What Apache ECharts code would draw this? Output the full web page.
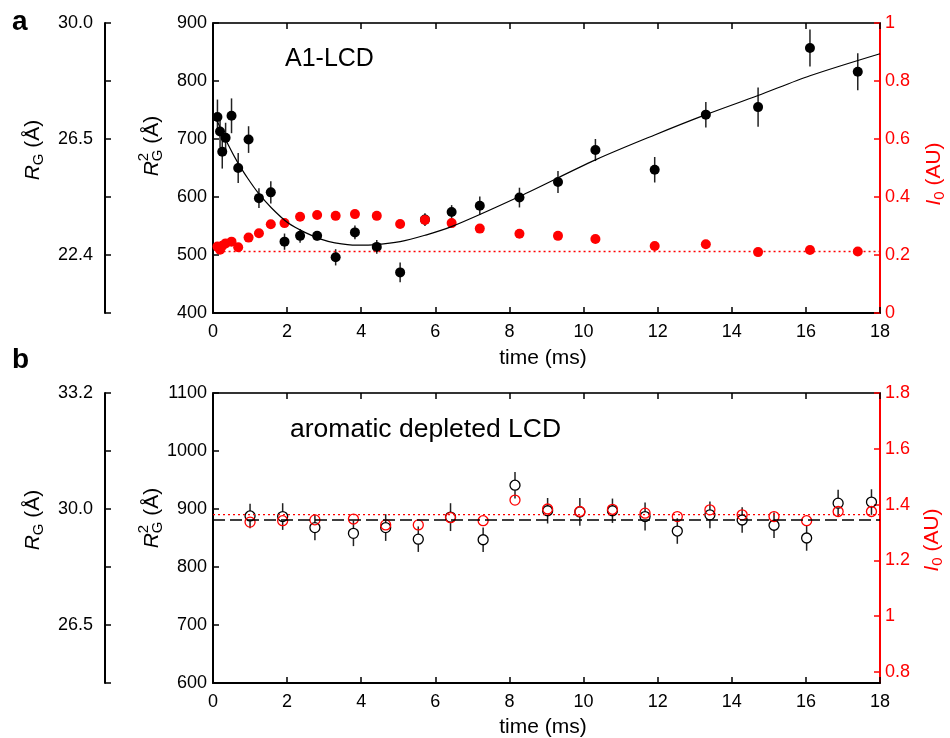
<!DOCTYPE html>
<html>
<head>
<meta charset="utf-8">
<script src="https://cdn.jsdelivr.net/npm/echarts@6/dist/echarts.min.js"></script>
<style>html,body{margin:0;padding:0;background:#fff}#c{width:950px;height:738px}</style>
</head>
<body>
<div id="c"></div>
<script>
// ---------- Panel a data (A1-LCD) ----------
const tA    = [0.12,0.19,0.25,0.34,0.50,0.68,0.96,1.24,1.56,1.93,2.35,2.81,3.31,3.83,4.42,5.05,5.72,6.44,7.20,8.27,9.31,10.32,11.92,13.30,14.71,16.11,17.40];
const rg2A  = [738,713,678,702,740,650,699,598,608,523,533,533,496,539,514,470,561,574,585,599,626,681,647,742,755,857,816];
const errA  = [30,28,29,26,30,26,23,17,19,14,12,8,14,12,12,17,11,12,16,17,19,19,22,22,34,32,32];
const i0A   = [0.229,0.218,0.232,0.240,0.246,0.227,0.260,0.275,0.306,0.310,0.332,0.338,0.335,0.341,0.335,0.307,0.321,0.310,0.291,0.273,0.266,0.255,0.231,0.237,0.210,0.217,0.212];
const i0BaseA = 0.212;
const fitT  = [0.08,0.14,0.41,0.68,0.95,1.22,1.58,2.03,2.48,2.93,3.29,3.88,4.42,5.05,5.72,6.40,8.27,10.32,11.92,13.30,14.71,16.11,18.0];
const fitY  = [737,727,690,658,631,607,581,555,539,527,521,517,518,523,534,548,601,664,707,742,775,809,847];

// ---------- Panel b data (aromatic depleted LCD) ----------
const tB    = [1.00,1.88,2.75,3.79,4.66,5.54,6.41,7.29,8.15,9.03,9.90,10.78,11.66,12.53,13.41,14.28,15.14,16.02,16.87,17.77];
const rg2B  = [888,887,868,858,868,848,886,847,941,897,895,897,887,862,890,881,872,850,910,912];
const errB  = [21,23,22,22,23,22,24,21,23,22,24,21,24,22,23,22,22,22,23,22];
const i0B   = [1.337,1.342,1.345,1.348,1.327,1.327,1.353,1.342,1.416,1.384,1.375,1.383,1.369,1.357,1.381,1.363,1.357,1.342,1.375,1.375];
const rg2BaseB = 881;
const i0BaseB  = 1.364;

// ---------- Tick labels ----------
const rgTickValsA   = [900,700,500];
const rgTickLabelsA = ['30.0','26.5','22.4'];
const rgTickValsB   = [1100,900,700];
const rgTickLabelsB = ['33.2','30.0','26.5'];
const i0TickValsB   = [0.8,1.0,1.2,1.4,1.6,1.8];
const i0TickLabelsB = ['0.8','1','1.2','1.4','1.6','1.8'];
const i0TickLabelsA = ['0','0.2','0.4','0.6','0.8','1'];

const FONT = '"Liberation Sans", Arial, Helvetica, sans-serif';
const RED = '#ff0000';
const chart = echarts.init(document.getElementById('c'), null, {renderer:'canvas'});

function xAx(grid, pos, show) {
  return {type:'value', gridIndex:grid, position:pos, min:0, max:18, interval:2,
    axisLine:{onZero:false, lineStyle:{color: pos==='top' ? '#333' : '#000', width:2}},
    axisTick:{inside:true, length:6, lineStyle:{color:'#000', width:1.5}},
    axisLabel:{show:show, margin:10, color:'#000', fontSize:18, fontFamily:FONT},
    splitLine:{show:false}};
}
function yAx(grid, pos, min, max, interval, opts) {
  const color = opts.color || '#000';
  const o = {type:'value', gridIndex:grid, position:pos, min:min, max:max, interval:interval,
    offset: opts.offset || 0,
    axisLine:{show:true, onZero:false, lineStyle:{color:color, width:2}},
    axisTick:{show:true, inside:true, length:6, lineStyle:{color:color, width:1.5}},
    axisLabel:{margin: opts.margin || 6, color:color, fontSize:18, fontFamily:FONT,
      formatter:function(v){return String(v);}},
    splitLine:{show:false}};
  if (opts.labelVals) { o.axisLabel.customValues = opts.labelVals; }
  if (opts.tickVals) { o.axisTick.customValues = opts.tickVals; }
  if (opts.fmt) o.axisLabel.formatter = opts.fmt;
  return o;
}
function mapFmt(vals, labels) {
  return function (v) {
    for (let i = 0; i < vals.length; i++) if (Math.abs(vals[i] - v) < 1e-6) return labels[i];
    return '';
  };
}

const ctx = document.createElement('canvas').getContext('2d');
function rotLabel(cx, cy, parts, color) {
  let x = 0; const children = [];
  parts.forEach(function (p) {
    const items = p.stack || [p];
    let w = 0;
    items.forEach(function (it) {
      const font = (it.italic ? 'italic ' : '') + it.size + 'px ' + FONT;
      ctx.font = font;
      w = Math.max(w, ctx.measureText(it.t).width);
      children.push({type:'text', x:x, y:it.dy || 0,
        style:{text:it.t, font:font, fill:color, align:'left', verticalAlign:'middle'}});
    });
    x += w;
  });
  return {type:'group', x:cx, y:cy + x / 2, rotation:Math.PI / 2, silent:true, children:children};
}
const rgParts  = [{t:'R', size:21, italic:true}, {t:'G', size:15, dy:6}, {t:' (Å)', size:21}];
const rg2Parts = [{t:'R', size:21, italic:true}, {stack:[{t:'2', size:15, dy:-8}, {t:'G', size:15, dy:6}]}, {t:' (Å)', size:21}];
const i0Parts  = [{t:'I', size:21, italic:true}, {t:'0', size:15, dy:6}, {t:' (AU)', size:21}];

function errBar(color, gapR) {
  return function (params, api) {
    const x = api.value(0), y = api.value(1), e = api.value(2);
    const c = api.coord([x, y]);
    const top = api.coord([x, y + e]);
    const bot = api.coord([x, y - e]);
    const st = {stroke: color, lineWidth: 1.5};
    if (!gapR) {
      return {type:'line', shape:{x1:top[0], y1:top[1], x2:bot[0], y2:bot[1]}, style:st};
    }
    return {type:'group', children:[
      {type:'line', shape:{x1:top[0], y1:top[1], x2:c[0], y2:c[1] - gapR}, style:st},
      {type:'line', shape:{x1:c[0], y1:c[1] + gapR, x2:bot[0], y2:bot[1]}, style:st}
    ]};
  };
}

const option = {
  animation:false,
  backgroundColor:'#fff',
  grid:[
    {left:213, top:23, width:667, height:290},
    {left:213, top:393, width:667, height:290}
  ],
  xAxis:[xAx(0,'bottom',true), xAx(0,'top',false), xAx(1,'bottom',true), xAx(1,'top',false)],
  yAxis:[
    yAx(0,'left',400,900,100,{margin:6}),
    yAx(0,'left',400,900,100,{offset:108, margin:12, labelVals:rgTickValsA, fmt:mapFmt(rgTickValsA, rgTickLabelsA)}),
    yAx(0,'right',0,1,0.2,{color:RED, margin:5, fmt:function(v){return i0TickLabelsA[Math.round(v/0.2)];}}),
    yAx(1,'left',600,1100,100,{margin:6}),
    yAx(1,'left',600,1100,100,{offset:108, margin:12, labelVals:rgTickValsB, fmt:mapFmt(rgTickValsB, rgTickLabelsB)}),
    yAx(1,'right',0.76,1.8,0.2,{color:RED, margin:5, labelVals:i0TickValsB, tickVals:i0TickValsB, fmt:mapFmt(i0TickValsB, i0TickLabelsB)})
  ],
  graphic:[
    {type:'text', left:12, top:8, style:{text:'a', font:'bold 28px ' + FONT, fill:'#000'}},
    {type:'text', left:12, top:346, style:{text:'b', font:'bold 28px ' + FONT, fill:'#000'}},
    {type:'text', x:285, y:59, style:{text:'A1-LCD', font:'25px ' + FONT, fill:'#000', verticalAlign:'middle'}},
    {type:'text', x:290, y:430, style:{text:'aromatic depleted LCD', font:'26.5px ' + FONT, fill:'#000', verticalAlign:'middle'}},
    {type:'text', x:543, y:358, style:{text:'time (ms)', font:'21px ' + FONT, fill:'#000', align:'center', verticalAlign:'middle'}},
    {type:'text', x:543, y:727, style:{text:'time (ms)', font:'21px ' + FONT, fill:'#000', align:'center', verticalAlign:'middle'}},
    rotLabel(33, 150, rgParts, '#000'),
    rotLabel(152, 146, rg2Parts, '#000'),
    rotLabel(934, 174, i0Parts, RED),
    rotLabel(33, 520, rgParts, '#000'),
    rotLabel(152, 518, rg2Parts, '#000'),
    rotLabel(932, 540, i0Parts, RED)
  ],
  series:[
    // panel a
    {type:'line', xAxisIndex:0, yAxisIndex:0, data:fitT.map(function(t,i){return [t, fitY[i]];}),
      smooth:0.3, showSymbol:false, symbol:'none', lineStyle:{color:'#000', width:1.2}, silent:true},
    {type:'line', xAxisIndex:0, yAxisIndex:2, data:[[0.15, i0BaseA],[18, i0BaseA]],
      showSymbol:false, symbol:'none', lineStyle:{color:RED, width:1.3, type:[2,3]}, silent:true},
    {type:'custom', xAxisIndex:0, yAxisIndex:0, renderItem:errBar('#222', 0),
      data:tA.map(function(t,i){return [t, rg2A[i], errA[i]];}), encode:{x:0, y:1}, silent:true},
    {type:'scatter', xAxisIndex:0, yAxisIndex:0, symbol:'circle', symbolSize:10,
      data:tA.map(function(t,i){return [t, rg2A[i]];}), itemStyle:{color:'#000', opacity:1}, silent:true},
    {type:'scatter', xAxisIndex:0, yAxisIndex:2, symbol:'circle', symbolSize:10,
      data:tA.map(function(t,i){return [t, i0A[i]];}), itemStyle:{color:RED, opacity:1}, silent:true},
    // panel b
    {type:'line', xAxisIndex:2, yAxisIndex:3, data:[[0, rg2BaseB],[18, rg2BaseB]],
      showSymbol:false, symbol:'none', lineStyle:{color:'#000', width:1.3, type:[12,5]}, silent:true},
    {type:'line', xAxisIndex:2, yAxisIndex:5, data:[[0, i0BaseB],[18, i0BaseB]],
      showSymbol:false, symbol:'none', lineStyle:{color:RED, width:1.3, type:[2,3]}, silent:true},
    {type:'custom', xAxisIndex:2, yAxisIndex:3, renderItem:errBar('#222', 5),
      data:tB.map(function(t,i){return [t, rg2B[i], errB[i]];}), encode:{x:0, y:1}, silent:true},
    {type:'scatter', xAxisIndex:2, yAxisIndex:3, symbol:'circle', symbolSize:10,
      data:tB.map(function(t,i){return [t, rg2B[i]];}),
      itemStyle:{color:'rgba(255,255,255,0)', borderColor:'#000', borderWidth:1.3, opacity:1}, silent:true},
    {type:'scatter', xAxisIndex:2, yAxisIndex:5, symbol:'circle', symbolSize:10,
      data:tB.map(function(t,i){return [t, i0B[i]];}),
      itemStyle:{color:'rgba(255,255,255,0)', borderColor:RED, borderWidth:1.3, opacity:1}, silent:true}
  ]
};
chart.setOption(option);
</script>
</body>
</html>
